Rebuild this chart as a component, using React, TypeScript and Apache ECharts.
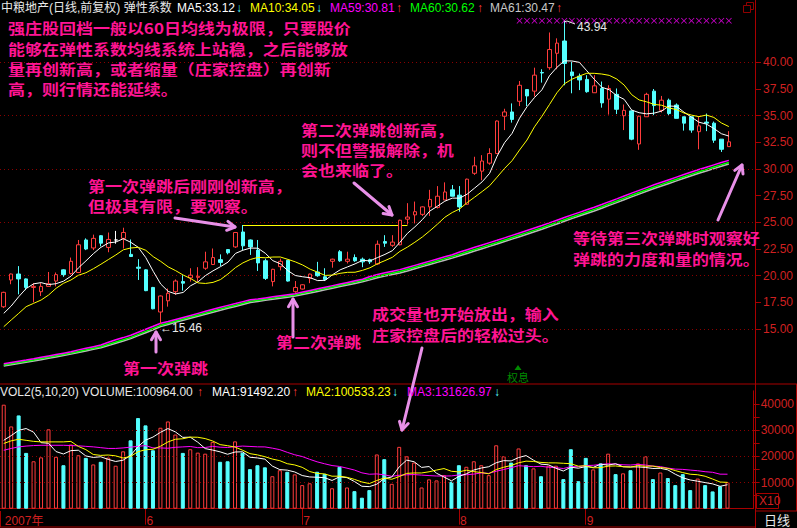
import React, { useEffect, useRef } from 'react';
import * as echarts from 'echarts';

// ---------- data ----------
const monthRuns: [string, number][] = [['5', 19], ['6', 21], ['7', 21], ['8', 17], ['9', 20]];
const padSlots = 3;

const opens = [
  17.09, 19.6, 20.16, 19.7, 18.9, 18.5, 19.0, 19.5, 20.55, 20.2,
  20.3, 23.35, 22.6, 23.75, 22.65, 23.35, 23.5, 22.0, 20.8, 20.55,
  18.9, 16.6, 17.65, 18.5, 19.45, 19.8, 19.85, 20.7, 21.05, 21.5,
  22.45, 22.7, 24.1, 23.35, 22.4, 21.4, 19.45, 20.85, 21.45, 18.5,
  18.75, 19.75, 20.35, 19.9, 21.35, 22.25, 21.35, 21.7, 21.55, 21.5,
  21.1, 23.2, 22.85, 22.9, 25.3, 25.7, 25.75, 26.45, 26.4, 27.1,
  28.05, 27.55, 26.7, 29.6, 29.8, 30.55, 31.45, 34.95, 35.35, 36.35,
  37.45, 37.3, 39.05, 39.5, 40.85, 42.0, 39.1, 38.7, 38.4, 37.15,
  37.55, 36.55, 37.0, 35.0, 35.45, 32.35, 34.9, 37.3, 35.5, 36.45,
  36.0, 34.9, 34.9, 33.5, 34.4, 34.3, 32.8, 32.1,
];
const closes = [
  18.44, 20.16, 19.7, 18.9, 19.0, 19.0, 19.25, 20.1, 20.1, 21.35,
  22.9, 22.5, 23.5, 23.05, 23.4, 23.35, 24.05, 21.8, 20.7, 18.6,
  16.9, 18.1, 18.35, 19.5, 19.3, 20.05, 19.95, 21.3, 21.7, 21.25,
  22.15, 24.05, 22.8, 22.7, 21.2, 19.75, 20.6, 21.35, 19.5, 18.9,
  19.15, 20.15, 20.0, 19.65, 21.55, 21.4, 21.55, 21.4, 21.3, 21.3,
  22.95, 23.05, 23.15, 25.2, 25.5, 26.0, 26.45, 27.15, 27.45, 27.85,
  27.45, 26.45, 29.05, 30.3, 30.75, 31.45, 34.5, 35.35, 34.65, 37.85,
  36.85, 38.8, 39.0, 41.2, 41.8, 39.9, 38.75, 38.35, 37.25, 37.8,
  36.2, 37.55, 35.6, 35.5, 32.8, 34.95, 37.0, 35.95, 36.45, 35.2,
  34.75, 34.3, 33.65, 34.05, 34.3, 32.7, 31.85, 32.55,
];
const lows = [
  16.97, 19.2, 18.25, 18.65, 17.5, 18.1, 19.0, 19.0, 19.9, 20.1,
  20.25, 22.4, 22.4, 22.75, 22.2, 23.0, 22.55, 21.75, 19.6, 18.55,
  16.85, 15.46, 17.1, 18.2, 18.6, 19.45, 19.45, 20.55, 21.0, 20.9,
  22.0, 22.6, 22.4, 21.95, 20.45, 19.6, 19.0, 20.5, 19.45, 18.4,
  18.7, 19.3, 19.9, 19.5, 20.75, 21.3, 21.15, 21.3, 20.8, 21.1,
  21.0, 22.7, 22.7, 22.85, 24.8, 24.9, 25.6, 25.6, 26.3, 27.1,
  27.45, 26.0, 26.65, 29.45, 28.95, 30.4, 31.45, 33.65, 34.35, 35.9,
  35.9, 36.8, 38.1, 39.3, 39.35, 37.85, 37.1, 37.4, 37.15, 37.15,
  35.75, 35.1, 35.15, 33.65, 32.7, 31.8, 34.9, 35.05, 35.3, 35.05,
  34.75, 33.6, 33.4, 31.85, 33.55, 32.45, 31.6, 32.1,
];
const highs = [
  18.5, 20.2, 20.9, 19.75, 19.3, 19.3, 20.35, 20.3, 20.6, 21.7,
  23.35, 23.5, 23.85, 23.8, 24.05, 24.2, 24.5, 23.4, 21.55, 20.6,
  18.95, 18.15, 18.8, 19.65, 20.05, 20.7, 20.8, 22.25, 22.55, 22.0,
  22.5, 24.1, 24.75, 23.4, 23.35, 21.6, 20.65, 21.6, 21.5, 19.5,
  19.2, 20.2, 21.3, 20.7, 21.6, 22.4, 22.25, 22.0, 21.7, 21.6,
  23.3, 23.8, 23.8, 25.25, 26.8, 26.95, 26.5, 28.05, 28.4, 28.75,
  28.5, 28.4, 29.1, 31.15, 31.3, 31.95, 34.55, 35.65, 36.15, 38.25,
  37.5, 39.5, 39.35, 42.8, 42.25, 43.94, 40.05, 38.95, 38.8, 38.8,
  38.2, 37.85, 37.55, 36.05, 35.5, 35.0, 37.15, 37.5, 36.85, 36.6,
  36.15, 34.9, 34.9, 34.9, 35.2, 34.45, 32.8, 33.55,
];
const volumes = [
  39700, 31400, 35600, 21300, 18100, 19600, 30300, 19800, 16600, 24500,
  20400, 19400, 16900, 17900, 19500, 16400, 21900, 26100, 34600, 31800,
  22300, 30900, 33300, 28300, 21300, 22700, 21400, 21000, 25500, 17900,
  18100, 25700, 21400, 15100, 16600, 15800, 12400, 14700, 14100, 13100,
  9000, 9700, 14100, 13300, 7800, 16000, 8100, 6700, 4200, 7100,
  20700, 18900, 9500, 23600, 20000, 17600, 8100, 11200, 10800, 12800,
  10300, 16600, 16000, 18100, 16600, 12800, 24200, 20000, 17600, 23000,
  16600, 15400, 12400, 16400, 16400, 11300, 22700, 10500, 19400, 15000,
  17300, 21000, 13200, 13500, 14700, 17300, 20000, 11300, 13800, 11700,
  9000, 13200, 7100, 11500, 9000, 6600, 8550, 10096,
];
const ma5Head = [16.47, 17.16, 18.03, 18.8];
const ma10Head = [15.22, 15.85, 16.47, 17.1, 17.41, 17.72, 18.19, 18.82, 19.29];
const ma59 = [
  11.75, 11.87, 11.99, 12.10, 12.22, 12.35, 12.48, 12.61, 12.74, 12.87,
  13.05, 13.20, 13.35, 13.50, 13.77, 13.99, 14.20, 14.42, 14.70, 14.98,
  15.26, 15.55, 15.70, 15.90, 16.09, 16.28, 16.47, 16.66, 16.85, 17.04,
  17.22, 17.39, 17.57, 17.75, 17.82, 17.92, 18.02, 18.12, 18.22, 18.32,
  18.47, 18.62, 18.77, 18.92, 19.07, 19.22, 19.37, 19.52, 19.67, 19.92,
  20.12, 20.27, 20.42, 20.57, 20.77, 20.97, 21.17, 21.37, 21.57, 21.77,
  21.97, 22.22, 22.44, 22.66, 22.88, 23.10, 23.32, 23.55, 23.78, 24.01,
  24.24, 24.47, 24.70, 24.95, 25.20, 25.45, 25.70, 25.94, 26.18, 26.42,
  26.67, 26.94, 27.20, 27.47, 27.74, 28.00, 28.26, 28.52, 28.76, 29.00,
  29.24, 29.48, 29.72, 29.95, 30.17, 30.39, 30.61, 30.81,
];
const ma60 = [
  11.63, 11.75, 11.87, 11.98, 12.10, 12.23, 12.36, 12.49, 12.62, 12.75,
  12.90, 13.05, 13.20, 13.35, 13.57, 13.79, 14.00, 14.22, 14.50, 14.78,
  15.06, 15.35, 15.55, 15.75, 15.94, 16.13, 16.32, 16.51, 16.70, 16.89,
  17.07, 17.24, 17.42, 17.60, 17.70, 17.80, 17.90, 18.00, 18.10, 18.20,
  18.35, 18.50, 18.65, 18.80, 18.95, 19.10, 19.25, 19.40, 19.55, 19.75,
  19.95, 20.10, 20.25, 20.40, 20.60, 20.80, 21.00, 21.20, 21.40, 21.60,
  21.80, 22.02, 22.24, 22.46, 22.68, 22.90, 23.12, 23.35, 23.58, 23.81,
  24.04, 24.27, 24.50, 24.75, 25.00, 25.25, 25.50, 25.74, 25.98, 26.22,
  26.47, 26.74, 27.00, 27.27, 27.54, 27.80, 28.06, 28.32, 28.56, 28.80,
  29.04, 29.28, 29.52, 29.75, 29.97, 30.19, 30.41, 30.62,
];
const ma61 = [
  11.53, 11.65, 11.77, 11.88, 12.00, 12.13, 12.26, 12.39, 12.52, 12.65,
  12.80, 12.95, 13.10, 13.25, 13.45, 13.67, 13.88, 14.10, 14.38, 14.66,
  14.94, 15.23, 15.43, 15.63, 15.82, 16.01, 16.20, 16.39, 16.58, 16.77,
  16.95, 17.12, 17.30, 17.48, 17.59, 17.69, 17.79, 17.89, 17.99, 18.09,
  18.23, 18.38, 18.53, 18.68, 18.83, 18.98, 19.13, 19.28, 19.43, 19.61,
  19.81, 19.96, 20.11, 20.26, 20.45, 20.65, 20.85, 21.05, 21.25, 21.45,
  21.65, 21.87, 22.09, 22.31, 22.53, 22.75, 22.97, 23.20, 23.43, 23.66,
  23.89, 24.12, 24.35, 24.60, 24.85, 25.10, 25.35, 25.59, 25.83, 26.07,
  26.32, 26.59, 26.85, 27.12, 27.39, 27.65, 27.91, 28.17, 28.41, 28.65,
  28.89, 29.13, 29.37, 29.60, 29.82, 30.04, 30.26, 30.47,
];
const volMa5Head = [26100, 27900, 29900, 30600];
const volMa10Head = [24900, 25900, 26500, 26100, 25700, 25500, 25500, 25500, 25500];
const volMa20Head = [22300, 23000, 23600, 23900, 24100, 24200, 24200, 24200, 24200, 24100,
  24000, 23800, 23600, 23300, 23000, 23000, 23200, 23500, 23800];

const priceLabels = [15, 17.5, 20, 22.5, 25, 27.5, 30, 32.5, 35, 37.5, 40];
const priceGridLevels = [15, 20, 25, 30, 35, 40];
const volLabels = [10000, 20000, 30000, 40000];
const volTicks = [5000, 10000, 15000, 20000, 25000, 30000, 35000, 40000];
const volGridLevels = [10000, 20000, 30000];
const signalDays = [69, 70, 71, 72, 73, 74, 75, 76, 77, 78, 79, 80, 81, 82, 83, 84, 85, 86, 87, 88, 89, 90, 91, 92, 93, 94, 95, 96, 97];
const signalLevel = 43.9;
const breakoutFrom = 32;
const breakoutTo = 54;
const breakoutPrice = 24.75;

// ---------- styles ----------
const BG = '#000000';
const RED = '#ff3c3c';
const CYAN = '#54ffff';
const AXIS = '#a80000';
const LABEL = '#d02020';
const PINK = '#ff1493';
const ARROW = '#e890e8';
const LATIN = '"Liberation Sans", Arial, "Noto Sans CJK SC", sans-serif';
const CJK = '"Noto Sans CJK SC", sans-serif';
const NOTE_FS = 14;
const NOTE_PITCH = 17;

const categories: string[] = [];
const monthStartIdx: number[] = [];
{
  let acc = 0;
  monthRuns.forEach(([m, n]) => {
    monthStartIdx.push(acc);
    for (let d = 1; d <= n; d++) categories.push(`${m}-${d}`);
    acc += n;
  });
  for (let k = 1; k <= padSlots; k++) categories.push(`pad${k}`);
}

function movingAvg(src: number[], n: number, head: number[]) {
  return src.map((_, i) => {
    if (i < head.length) return head[i];
    let s = 0;
    for (let k = i - n + 1; k <= i; k++) s += src[k];
    return +(s / n).toFixed(3);
  });
}

function txt(text: string, x: number, y: number, fill: string, fontSize = 12, fontFamily = LATIN, fontWeight: any = 'normal', align = 'left') {
  return {
    type: 'text', silent: true, z: 100,
    style: { text, x, y, fill, fontSize, fontFamily, fontWeight, align, verticalAlign: 'middle' },
  };
}
// annotation lines: smaller font stretched horizontally to the reference's 17px character pitch
function note(lines: string[], x: number, centers: number[]) {
  return lines.map((line, k) => ({
    type: 'text', silent: true, z: 100, x, y: centers[k], scaleX: NOTE_PITCH / NOTE_FS, scaleY: 1.04,
    style: { text: line, x: 0, y: 0, fill: PINK, fontSize: NOTE_FS, fontFamily: CJK, fontWeight: 'bold', align: 'left', verticalAlign: 'middle' },
  }));
}
function seg(x1: number, y1: number, x2: number, y2: number, stroke: string, lineWidth = 1) {
  return { type: 'line', silent: true, z: 90, shape: { x1, y1, x2, y2 }, style: { stroke, lineWidth } };
}
function arrow(x1: number, y1: number, x2: number, y2: number) {
  const ang = Math.atan2(y2 - y1, x2 - x1);
  const L = 9, a = Math.PI / 6;
  const p1 = [x2 - L * Math.cos(ang - a), y2 - L * Math.sin(ang - a)];
  const p2 = [x2 - L * Math.cos(ang + a), y2 - L * Math.sin(ang + a)];
  return [
    { type: 'line', silent: true, z: 95, shape: { x1, y1, x2, y2 }, style: { stroke: ARROW, lineWidth: 3, lineCap: 'round' } },
    { type: 'polyline', silent: true, z: 95, shape: { points: [p1, [x2, y2], p2] }, style: { stroke: ARROW, lineWidth: 3, fill: null, lineCap: 'round', lineJoin: 'round' } },
  ];
}

function buildOption() {
  const ohlc = opens.map((o, i) => [o, closes[i], lows[i], highs[i]]);
  const ma5 = movingAvg(closes, 5, ma5Head);
  const ma10 = movingAvg(closes, 10, ma10Head);
  const vma5 = movingAvg(volumes, 5, volMa5Head);
  const vma10 = movingAvg(volumes, 10, volMa10Head);
  const vma20 = movingAvg(volumes, 20, volMa20Head);
  const volData = volumes.map((v, i) => {
    const up = closes[i] >= opens[i];
    return { value: v, itemStyle: { color: up ? BG : CYAN, borderColor: up ? RED : CYAN, borderWidth: 1 } };
  });
  const dotted = { color: '#8a0000', type: [1, 3], width: 1 };
  const lineS = (name: string, data: number[], color: string, xi: number, width = 1, z = 3) => ({
    name, type: 'line', xAxisIndex: xi, yAxisIndex: xi, data, showSymbol: false, symbol: 'none',
    lineStyle: { color, width }, z, silent: true,
  });

  const graphics: any[] = [
    // header row
    txt('中粮地产(日线,前复权) 弹性系数', 1, 8, '#e8e8e8'),
    txt('MA5:33.12', 177, 8, '#ffffff'),
    txt('↓', 236, 8, CYAN),
    txt('MA10:34.05', 250, 8, '#ffff00'),
    txt('↓', 316, 8, CYAN),
    txt('MA59:30.81', 330, 8, '#ff00ff'),
    txt('↑', 396, 8, RED),
    txt('MA60:30.62', 410, 8, '#00ff00'),
    txt('↑', 477, 8, RED),
    txt('MA61:30.47', 490, 8, '#c8c8c8'),
    txt('↑', 556, 8, RED),
    // volume header
    txt('VOL2(5,10,20) VOLUME:100964.00', 0, 392, '#e8e8e8'),
    txt('↑', 197, 392, RED),
    txt('MA1:91492.20', 212, 392, '#ffffff'),
    txt('↑', 292, 392, RED),
    txt('MA2:100533.23', 306, 392, '#ffff00'),
    txt('↓', 392, 392, CYAN),
    txt('MA3:131626.97', 407, 392, '#ff00ff'),
    txt('↓', 494, 392, CYAN),
    // annotations
    ...note(['强庄股回档一般以60日均线为极限，只要股价', '能够在弹性系数均线系统上站稳，之后能够放', '量再创新高，或者缩量（庄家控盘）再创新', '高，则行情还能延续。'], 8, [28, 49, 69.5, 89.5]),
    ...note(['第一次弹跳后刚刚创新高，', '但极其有限，要观察。'], 88, [186.5, 206.5]),
    ...note(['第二次弹跳创新高，', '则不但警报解除，机', '会也来临了。'], 301, [130.5, 150.5, 170]),
    ...note(['等待第三次弹跳时观察好', '弹跳的力度和量的情况。'], 573, [238, 259]),
    ...note(['成交量也开始放出，输入', '庄家控盘后的轻松过头。'], 372, [314.5, 335]),
    ...note(['第一次弹跳'], 123, [368]),
    ...note(['第二次弹跳'], 276, [342]),
    ...arrow(156, 352, 156, 332),
    ...arrow(293, 337, 293, 299),
    ...arrow(175, 218, 235, 227),
    ...arrow(354, 183, 392, 215),
    ...arrow(422, 348, 402, 430),
    ...arrow(718, 220, 742, 165),
    // value labels
    txt('←15.46', 160, 328, '#e8e8e8'),
    txt('43.94', 577, 27, '#e8e8e8'),
    { type: 'polyline', silent: true, z: 95, shape: { points: [[564, 22], [567, 21], [575, 24]] }, style: { stroke: '#e8e8e8', lineWidth: 1, fill: null } },
    // 权息 marker
    { type: 'polygon', silent: true, z: 95, shape: { points: [[518, 365], [514.5, 370], [521.5, 370]] }, style: { fill: '#008a00' } },
    txt('权息', 518, 377, '#008a00', 11, CJK, 'normal', 'center'),
    // frame lines
    seg(0, 384, 797, 384, AXIS),
    seg(755.5, 0, 755.5, 528, AXIS),
    seg(796.5, 384, 796.5, 511, AXIS),
    seg(755, 511, 797, 511, AXIS),
    seg(0, 527, 755, 527, AXIS),
    seg(0.5, 511, 0.5, 527, AXIS),
    { type: 'rect', silent: true, z: 90, shape: { x: 756.5, y: 493.5, width: 22, height: 15 }, style: { stroke: AXIS, fill: null, lineWidth: 1 } },
    txt('X10', 759, 501, LABEL, 12),
    txt('日线', 764, 519, '#e8e8e8', 13, CJK),
    { type: 'rect', silent: true, z: 90, shape: { x: 746.5, y: 2.5, width: 7, height: 7 }, style: { stroke: '#900000', fill: null, lineWidth: 1 } },
    { type: 'rect', silent: true, z: 91, shape: { x: 743.5, y: 5.5, width: 7, height: 7 }, style: { stroke: '#900000', fill: BG, lineWidth: 1 } },
  ];

  return {
    animation: false,
    backgroundColor: BG,
    grid: [
      { left: 0, top: 9, width: 755, height: 373.4 },
      { left: 0, top: 390.8, width: 755, height: 117.9 },
    ],
    xAxis: [
      { type: 'category', gridIndex: 0, data: categories, boundaryGap: true, show: false },
      {
        type: 'category', gridIndex: 1, data: categories, boundaryGap: true, offset: 2,
        axisLine: { show: true, lineStyle: { color: AXIS } },
        axisTick: { show: true, alignWithLabel: true, length: 16, interval: (i: number) => i > 0 && monthStartIdx.includes(i), lineStyle: { color: AXIS } },
        axisLabel: {
          show: true, interval: (i: number) => monthStartIdx.includes(i),
          formatter: (v: string, i: number) => (i === 0 ? '2007年' : v.split('-')[0]),
          color: LABEL, fontSize: 12, fontFamily: LATIN, align: 'left', margin: 4, padding: [0, 0, 0, 1],
        },
        splitLine: { show: false },
      },
    ],
    yAxis: [
      {
        type: 'value', gridIndex: 0, min: 10, max: 45, interval: 2.5, position: 'right',
        axisLine: { show: true, lineStyle: { color: AXIS } },
        axisTick: { show: true, length: 6, customValues: priceLabels, lineStyle: { color: AXIS } },
        axisLabel: { show: true, customValues: priceLabels, formatter: (v: number) => v.toFixed(2), color: LABEL, fontSize: 12, fontFamily: LATIN, margin: 8 },
        splitLine: { show: false },
      },
      {
        type: 'value', gridIndex: 1, min: 0, max: 45000, interval: 5000, position: 'right',
        axisLine: { show: true, lineStyle: { color: AXIS } },
        axisTick: { show: true, length: 6, customValues: volTicks, lineStyle: { color: AXIS } },
        axisLabel: { show: true, customValues: volLabels, formatter: (v: number) => String(v), color: LABEL, fontSize: 12, fontFamily: LATIN, margin: 7 },
        splitLine: { show: false },
      },
    ],
    series: [
      {
        name: 'K', type: 'candlestick', xAxisIndex: 0, yAxisIndex: 0, data: ohlc, barWidth: 4, z: 5,
        itemStyle: { color: BG, color0: CYAN, borderColor: RED, borderColor0: CYAN, borderColorDoji: '#ffffff', borderWidth: 1 },
        markLine: {
          silent: true, symbol: ['none', 'none'], label: { show: false }, animation: false,
          data: [
            ...priceGridLevels.map((v) => ({ yAxis: v, lineStyle: dotted })),
            [
              { coord: [categories[breakoutFrom], breakoutPrice], lineStyle: { color: '#ffff00', width: 1, type: 'solid' } },
              { coord: [categories[breakoutTo], breakoutPrice] },
            ],
          ],
        },
      },
      lineS('MA61', ma61, '#b8b8b8', 0, 1.5, 3),
      lineS('MA60', ma60, '#00ff00', 0, 1.5, 3),
      lineS('MA59', ma59, '#ff00ff', 0, 1.5, 3),
      lineS('MA5', ma5, '#ffffff', 0, 1, 6),
      lineS('MA10', ma10, '#ffff00', 0, 1, 6),
      {
        name: 'signal', type: 'scatter', xAxisIndex: 0, yAxisIndex: 0, silent: true, z: 6,
        data: signalDays.map((i) => [categories[i], signalLevel]),
        symbol: 'path://M0 1L1 0L5 4L9 0L10 1L6 5L10 9L9 10L5 6L1 10L0 9L4 5Z', symbolSize: 6,
        itemStyle: { color: '#ff00ff' },
      },
      {
        name: 'VOL', type: 'bar', xAxisIndex: 1, yAxisIndex: 1, data: volData, barWidth: 4, z: 4,
        markLine: {
          silent: true, symbol: ['none', 'none'], label: { show: false }, animation: false,
          data: volGridLevels.map((v) => ({ yAxis: v, lineStyle: dotted })),
        },
      },
      lineS('VMA5', vma5, '#ffffff', 1, 1, 6),
      lineS('VMA10', vma10, '#ffff00', 1, 1, 6),
      lineS('VMA20', vma20, '#ff00ff', 1, 1, 5),
    ],
    graphic: { elements: graphics },
  };
}

export default function App() {
  const ref = useRef<HTMLDivElement>(null);
  useEffect(() => {
    const chart = echarts.init(ref.current as HTMLDivElement, null, { renderer: 'svg' });
    chart.setOption(buildOption() as any);
    return () => chart.dispose();
  }, []);
  return (
    <div
      ref={ref}
      style={{ position: 'fixed', left: 0, top: 0, width: 797, height: 528, background: BG }}
    />
  );
}
